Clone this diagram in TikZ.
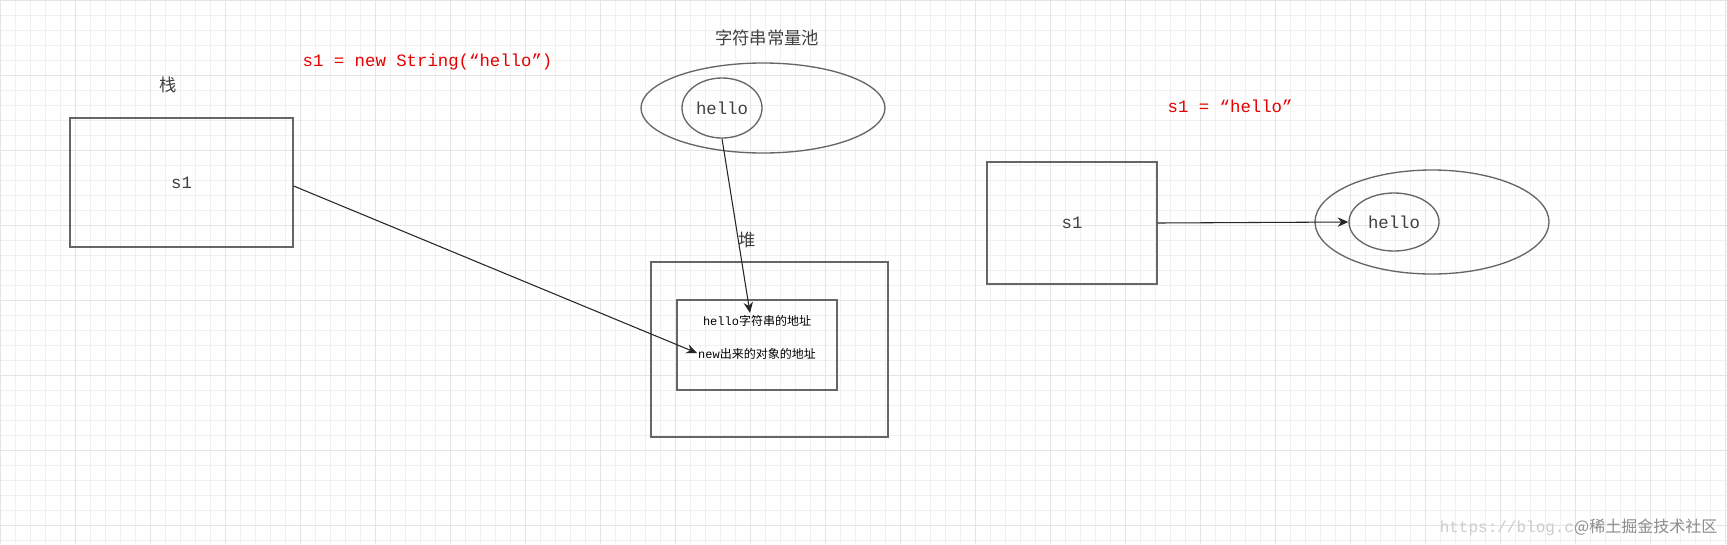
\documentclass[tikz,border=0pt]{standalone}
\usepackage{fontspec}
\usetikzlibrary{shapes.geometric,arrows.meta}
\setmainfont{Liberation Mono}
\newfontfamily\cjk{Noto Sans CJK SC}
\begin{document}
\begin{tikzpicture}[x=0.75pt,y=-0.75pt,
  box/.style={draw=black!60,line width=1pt},
  lab/.style={font=\fontsize{13}{15}\selectfont,text=black!75},
  red/.style={font=\fontsize{13}{15}\selectfont,text=red!90!black,anchor=west},
  arr/.style={draw=black!85,line width=0.8pt,-{Stealth[length=8pt,width=7pt]}}]
\useasboundingbox (0,0) rectangle (1727,544);
\fill[white] (0,0) rectangle (1727,544);
\foreach \i in {0,15,...,1725} \draw[black!6,line width=0.4pt] (\i,0) -- (\i,544);
\foreach \i in {0,15,...,540} \draw[black!6,line width=0.4pt] (0,\i) -- (1727,\i);
\foreach \i in {0,75,...,1725} \draw[black!10,line width=0.5pt] (\i,0) -- (\i,544);
\foreach \i in {0,75,...,540} \draw[black!10,line width=0.5pt] (0,\i) -- (1727,\i);
% left
\node[lab] (zhan) at (168,85) {\cjk 栈};
\node[box,minimum width=167.25pt,minimum height=96.75pt] (s1a) at (181.5,182.5) {};
\node[lab] at (s1a) {s1};
\node[red] (code1) at (298,62) {s1 = new String(“hello”)};
% pool
\node[lab] (pool) at (767,38) {\cjk 字符串常量池};
\draw[box] (763,108) ellipse [x radius=122,y radius=45];
\node[box,ellipse,minimum width=60pt,minimum height=45pt,inner sep=0pt] (h1) at (722,108) {};
\node[lab] at (h1) {hello};
% heap
\node[lab] (dui) at (747,240) {\cjk 堆};
\node[box,minimum width=177.75pt,minimum height=131.25pt] (heap) at (769.5,349.5) {};
\node[draw=black!60,line width=0.8pt,minimum width=120pt,minimum height=67.5pt] (inner) at (757,345) {};
\node[font=\fontsize{9}{11}\selectfont] (t1) at (757,321) {hello{\cjk 字符串的地址}};
\node[font=\fontsize{9}{11}\selectfont] (t2) at (757,354) {new{\cjk 出来的对象的地址}};
\coordinate (e1) at (697,353);
\coordinate (e2) at (750,313);
\draw[arr] (s1a.east |- 0,186) -- (e1);
\draw[arr] (h1.south) -- (e2);
% right
\node[red] (code2) at (1163,106) {s1 = “hello”};
\node[box,minimum width=127.5pt,minimum height=91.5pt] (s1b) at (1072,223) {};
\node[lab] at (s1b) {s1};
\draw[box] (1432,222) ellipse [x radius=117,y radius=52];
\node[box,ellipse,minimum width=67.5pt,minimum height=43.5pt,inner sep=0pt] (h2) at (1394,222) {};
\node[lab] at (h2) {hello};
\draw[arr] (s1b.east) -- (h2.west);
\node[font=\fontsize{12}{14}\selectfont,anchor=east] (wm) at (1722,527) {\textcolor{black!20}{https://blog.c}\textcolor{black!45}{\cjk @稀土掘金技术社区}};
\end{tikzpicture}
\end{document}
